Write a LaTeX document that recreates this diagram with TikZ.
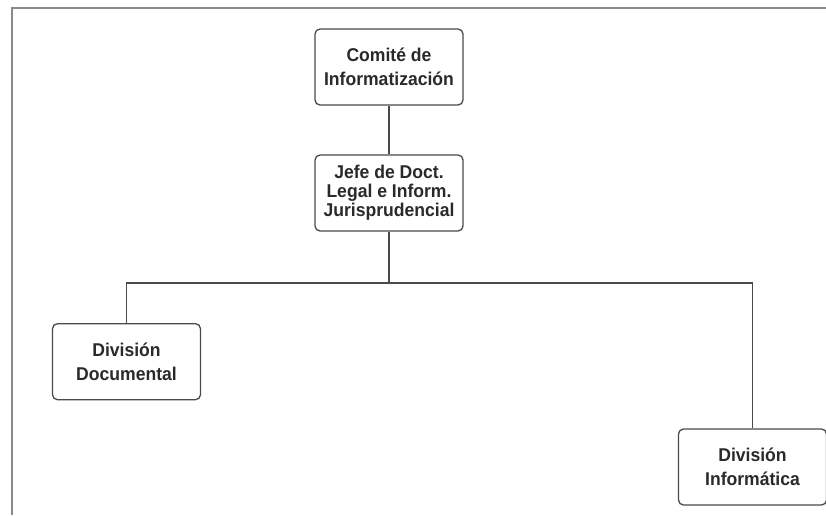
\documentclass[tikz,border=0pt]{standalone}
\usepackage{fontspec}
\setmainfont{Liberation Sans}
\newfontfamily\boxfont[FakeStretch=0.95]{Liberation Sans}
\begin{document}
\begin{tikzpicture}[x=1pt,y=-1pt,
  orgbox/.style={draw=boxgray, line width=1.3pt, rounded corners=5pt, fill=white,
    minimum width=148pt, minimum height=76pt, align=center, text=textgray,
    font=\boxfont\fontsize{18.5}{24}\selectfont\bfseries, inner sep=1pt},
  link/.style={draw=boxgray, line width=1.3pt},
  frameline/.style={draw=framegray, line width=2pt}]
\definecolor{boxgray}{HTML}{4A4A4A}
\definecolor{textgray}{HTML}{2A2A2A}
\definecolor{framegray}{HTML}{8A8A8A}
\useasboundingbox (0,0) rectangle (826,515);
\draw[frameline] (12.3,515) -- (12.3,8.3) -- (826,8.3);
\node[orgbox] (comite) at (389,67) {Comité de\\Informatización};
\node[orgbox, font=\boxfont\fontsize{18.5}{19}\selectfont\bfseries] (jefe) at (389,193) {Jefe de Doct.\\Legal e Inform.\\Jurisprudencial};
\node[orgbox] (doc) at (126.5,361.7) {División\\Documental};
\node[orgbox] (inf) at (752.5,467) {División\\Informática};
\coordinate (bus) at (389,283);
\draw[link] (comite.south) -- (jefe.north);
\draw[link] (jefe.south) -- (bus);
\draw[link] (doc.north) |- (bus) -| (inf.north);
\end{tikzpicture}
\end{document}
